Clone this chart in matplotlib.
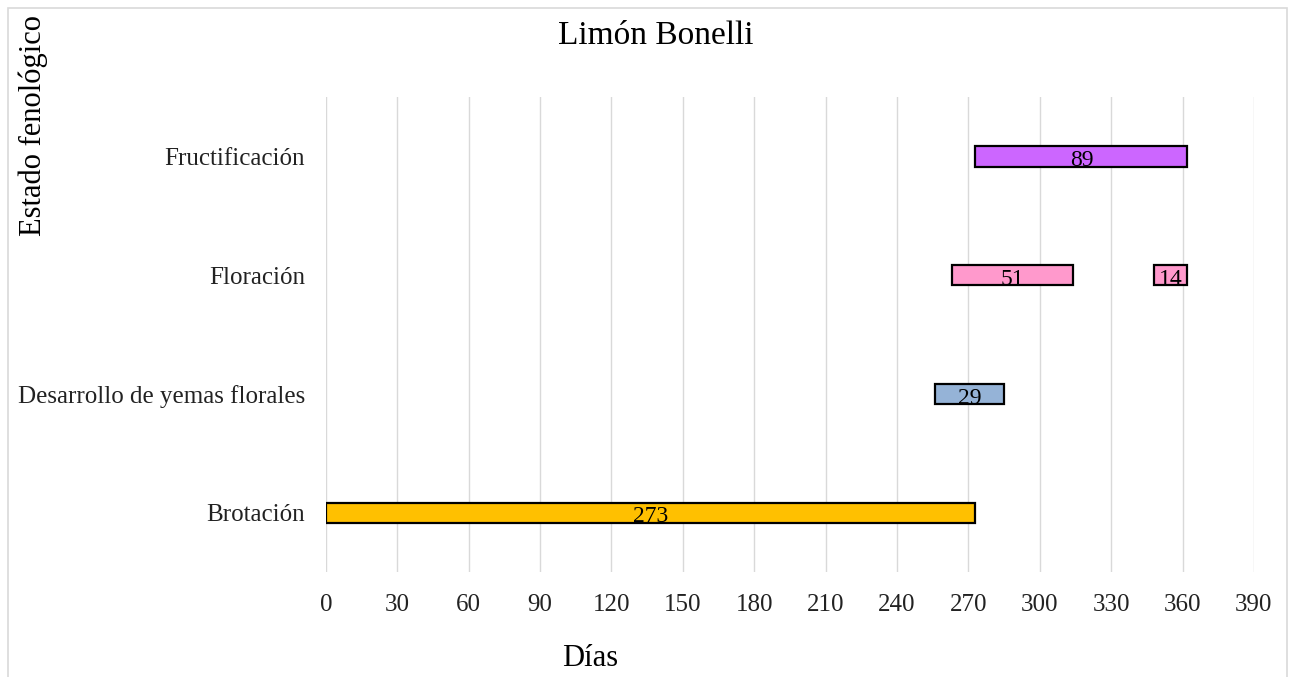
import matplotlib.pyplot as plt
from matplotlib.patches import Rectangle

plt.rcParams['font.family'] = ['Liberation Serif', 'DejaVu Serif']

etapas = ['Brotación', 'Desarrollo de yemas florales', 'Floración', 'Fructificación']
# each bar: (stage index, start day, duration in days)
fila = [0, 1, 2, 2, 3]
inicio = [0, 256, 263, 348, 273]
duracion = [273, 29, 51, 14, 89]
colores = ['#FFC000', '#95B3D7', '#FF99CC', '#FF99CC', '#CC66FF']
ticks_x = list(range(0, 391, 30))


def main():
    fig = plt.figure(figsize=(12.96, 6.77), dpi=100)
    ax = fig.add_axes([0.2515, 0.155, 0.716, 0.7015])

    ax.barh(fila, duracion, left=inicio, height=0.17, color=colores,
            edgecolor='black', linewidth=1.6, zorder=3)
    for f, s, d in zip(fila, inicio, duracion):
        ax.text(s + d / 2, f - 0.035, str(d), ha='center', va='center',
                fontsize=17, color='black', zorder=4)

    ax.set_xlim(0, 390)
    ax.set_ylim(-0.5, 3.5)
    ax.set_xticks(ticks_x)
    ax.set_yticks(range(len(etapas)))
    ax.set_yticklabels(etapas)
    ax.tick_params(axis='both', length=0, labelsize=18, colors='#222222')
    ax.tick_params(axis='x', pad=16)
    ax.tick_params(axis='y', pad=15)
    ax.grid(axis='x', color='#D9D9D9', linewidth=1, zorder=0)
    for s in ax.spines.values():
        s.set_visible(False)

    fig.text(0.506, 0.947, 'Limón Bonelli', ha='center', va='center', fontsize=24)
    fig.text(0.455, 0.028, 'Días', ha='center', va='center', fontsize=22)
    fig.text(0.026, 0.978, 'Estado fenológico', ha='center', va='top',
             rotation=90, fontsize=22)

    fig.patches.append(Rectangle((0.006, -0.02), 0.987, 1.008, transform=fig.transFigure,
                                 fill=False, edgecolor='#D9D9D9', linewidth=1.2))

    fig.savefig('out.png', dpi=100)


if __name__ == '__main__':
    main()
